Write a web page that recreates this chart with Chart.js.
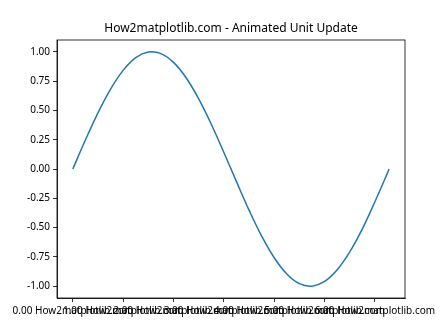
<!DOCTYPE html>
<html>
<head>
<meta charset="utf-8">
<script src="https://cdn.jsdelivr.net/npm/chart.js@4"></script>
<style>
  html, body { margin: 0; padding: 0; background: #fff; }
  #wrap { width: 448px; height: 336px; }
</style>
</head>
<body>
<div id="wrap"><canvas id="myChart" width="448" height="336"></canvas></div>
<script>
// values
const xValues = [0, 0.25, 0.5, 0.75, 1.0, 1.25, 1.5, 1.75, 2.0, 2.25, 2.5, 2.75, 3.0,
  3.25, 3.5, 3.75, 4.0, 4.25, 4.5, 4.75, 5.0, 5.25, 5.5, 5.75, 6.0, 6.25, 6.28];
const yValues = [0, 0.247, 0.479, 0.682, 0.841, 0.949, 0.997, 0.984, 0.909, 0.778, 0.598, 0.382, 0.141,
  -0.108, -0.351, -0.572, -0.757, -0.895, -0.978, -0.999, -0.959, -0.859, -0.706, -0.510, -0.279, -0.033, 0];
const xTicks = [0, 1, 2, 3, 4, 5, 6];
const yTicks = [-1, -0.75, -0.5, -0.25, 0, 0.25, 0.5, 0.75, 1];
const tickSuffix = ' How2matplotlib.com';
const titleText = 'How2matplotlib.com - Animated Unit Update';

Chart.defaults.font.family = '"Noto Sans", "DejaVu Sans", sans-serif';
Chart.defaults.font.size = 10;
Chart.defaults.color = '#000';

// frame on all four sides plus title centred over the plot area
const frame = {
  id: 'frame',
  afterDraw(chart) {
    const a = chart.chartArea, c = chart.ctx;
    c.save();
    c.strokeStyle = '#000';
    c.lineWidth = 0.8;
    c.strokeRect(a.left, a.top, a.right - a.left, a.bottom - a.top);
    c.fillStyle = '#000';
    c.font = '12px "Noto Sans", "DejaVu Sans", sans-serif';
    c.textAlign = 'center';
    c.textBaseline = 'middle';
    c.fillText(titleText, (a.left + a.right) / 2, 29);
    c.restore();
  }
};

const ctx = document.getElementById('myChart').getContext('2d');
const myChart = new Chart(ctx, {
  type: 'scatter',
  data: {
    datasets: [{
      data: xValues.map((x, i) => ({ x: x, y: yValues[i] })),
      showLine: true,
      borderColor: '#1f77b4',
      borderWidth: 1.5,
      pointRadius: 0,
      tension: 0.4,
      fill: false
    }]
  },
  options: {
    responsive: false,
    animation: false,
    layout: { padding: { left: 0, right: 43, top: 40, bottom: 0 } },
    plugins: {
      legend: { display: false },
      tooltip: { enabled: false },
      title: { display: false }
    },
    scales: {
      x: {
        type: 'linear',
        min: -0.314,
        max: 6.597,
        afterBuildTicks: axis => { axis.ticks = xTicks.map(v => ({ value: v })); },
        afterFit: scale => { scale.height = 38; },
        grid: { drawOnChartArea: false, color: '#000', lineWidth: 0.8, tickLength: 4 },
        border: { color: '#000', width: 0.8 },
        ticks: {
          autoSkip: false,
          maxRotation: 0,
          minRotation: 0,
          padding: 3,
          callback: v => v.toFixed(2) + tickSuffix
        }
      },
      y: {
        min: -1.1,
        max: 1.1,
        afterBuildTicks: axis => { axis.ticks = yTicks.map(v => ({ value: v })); },
        afterFit: scale => { scale.width = 57; },
        grid: { drawOnChartArea: false, color: '#000', lineWidth: 0.8, tickLength: 4 },
        border: { color: '#000', width: 0.8 },
        ticks: {
          padding: 3,
          callback: v => v.toFixed(2)
        }
      }
    }
  },
  plugins: [frame]
});
</script>
</body>
</html>
